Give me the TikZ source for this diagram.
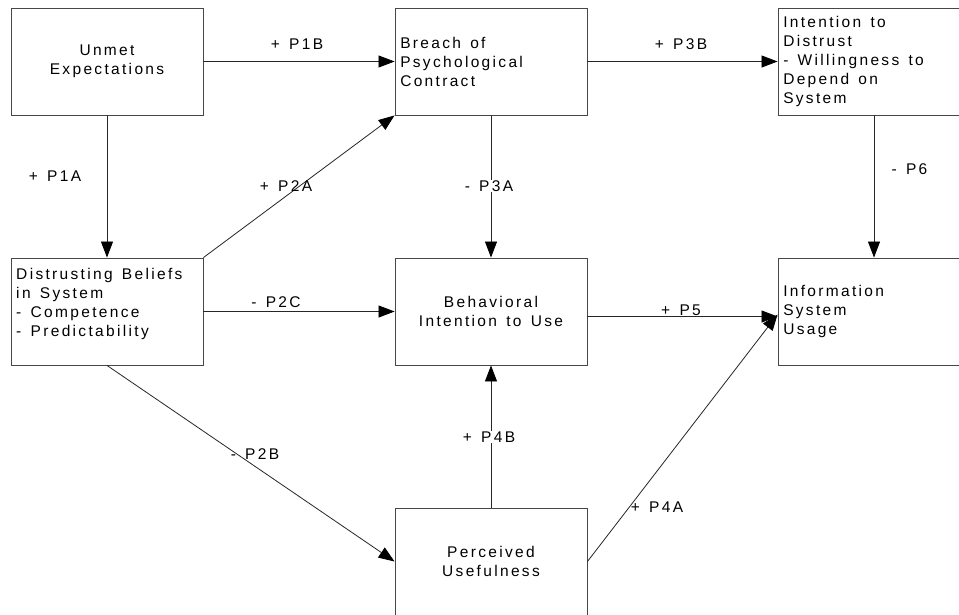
\documentclass[tikz,border=0pt]{standalone}
\usepackage{fontspec}
\setmainfont{Liberation Sans}[LetterSpace=15,WordSpace=1.4]
\usetikzlibrary{arrows.meta}
\begin{document}
\begin{tikzpicture}[x=1pt,y=-1pt,
  every node/.style={font=\fontsize{15.5}{19}\selectfont, text=black},
  box/.style={draw=black!72, line width=0.9pt, minimum width=192pt, minimum height=107pt, inner sep=0pt},
  boxc/.style={box, align=center},
  txt/.style={align=left, anchor=west, inner sep=0pt},
  arr/.style={draw=black!85, line width=0.8pt, -{Triangle[length=16pt,width=12pt,color=black]}},
  lab/.style={inner sep=1pt}]
\useasboundingbox (0,0) rectangle (959,614);
\fill[white] (0,0) rectangle (959,614);

\node[boxc] (unmet) at (107,61.5) {Unmet\\Expectations};
\node[box] (breach) at (491,61.5) {};
\node[box] (intent) at (874,61.5) {};
\node[box] (distr) at (107,311.5) {};
\node[boxc] (behav) at (491,311.5) {Behavioral\\Intention to Use};
\node[box] (info) at (874,311.5) {};
\node[boxc] (perc) at (491,561.5) {Perceived\\Usefulness};

\node[txt] (breachT) at ([xshift=5.5pt]breach.west) {Breach of\\Psychological\\Contract};
\node[txt] (intentT) at ([xshift=5.5pt]intent.west) {Intention to\\Distrust\\- Willingness to\\Depend on\\System};
\node[txt] (distrT) at ([xshift=5.5pt]distr.west) {Distrusting Beliefs\\in System\\- Competence\\- Predictability\\~};
\node[txt] (infoT) at ([xshift=5.5pt]info.west) {Information\\System\\Usage};

\draw[arr] (unmet.east) -- (breach.west);
\draw[arr] (unmet.south) -- (distr.north);
\draw[arr] (distr.north east) -- (breach.south west);
\draw[arr] (breach.south) -- (behav.north);
\draw[arr] (breach.east) -- (intent.west);
\draw[arr] (intent.south) -- (info.north);
\draw[arr] (distr.east) -- (behav.west);
\draw[arr] (distr.south) -- (perc.west);
\draw[arr] ([yshift=-5pt]behav.east) -- ([yshift=-5pt]info.west);
\draw[arr] (perc.north) -- (behav.south);
\draw[arr] (perc.east) -- ([yshift=-3pt]info.west);

\node[lab] (l1b) at (297,44.5) {+ P1B};
\node[lab] (l1a) at (55,176) {+ P1A};
\node[lab] (l2a) at (286,186) {+ P2A};
\node[lab, fill=white] (l3a) at (489,186) {- P3A};
\node[lab] (l3b) at (681,44.5) {+ P3B};
\node[lab] (l6) at (909.5,169) {- P6};
\node[lab] (l2c) at (276,302) {- P2C};
\node[lab] (l5) at (681,310.5) {+ P5};
\node[lab, fill=white] (l4b) at (489,437) {+ P4B};
\node[lab] (l2b) at (255,454) {- P2B};
\node[lab] (l4a) at (657,507) {+ P4A};
\end{tikzpicture}
\end{document}
